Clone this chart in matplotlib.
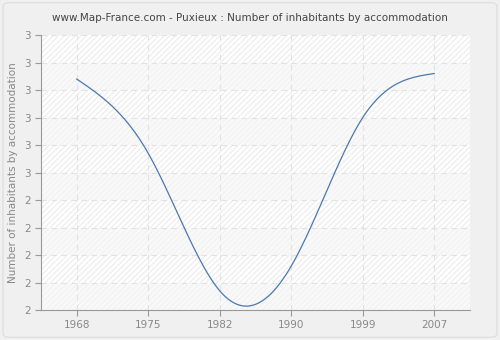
import numpy as np
import matplotlib
matplotlib.use("Agg")
import matplotlib.pyplot as plt
from matplotlib.patches import Rectangle, FancyBboxPatch
from matplotlib.ticker import FuncFormatter

years = ["1968", "1975", "1982", "1990", "1999", "2007"]
values = [2.84, 2.57, 2.07, 2.16, 2.70, 2.86]


def natural_spline(x, y, n=300):
    # natural cubic spline, second derivatives zero at both ends
    x = np.asarray(x, float)
    y = np.asarray(y, float)
    k = len(x)
    h = np.diff(x)
    A = np.zeros((k, k))
    b = np.zeros(k)
    A[0, 0] = A[-1, -1] = 1
    for i in range(1, k - 1):
        A[i, i - 1] = h[i - 1]
        A[i, i] = 2 * (h[i - 1] + h[i])
        A[i, i + 1] = h[i]
        b[i] = 6 * ((y[i + 1] - y[i]) / h[i] - (y[i] - y[i - 1]) / h[i - 1])
    m = np.linalg.solve(A, b)
    xs = np.linspace(x[0], x[-1], n)
    idx = np.clip(np.searchsorted(x, xs) - 1, 0, k - 2)
    t0 = x[idx + 1] - xs
    t1 = xs - x[idx]
    hi = h[idx]
    ys = (m[idx] * t0 ** 3 / (6 * hi) + m[idx + 1] * t1 ** 3 / (6 * hi)
          + (y[idx] / hi - m[idx] * hi / 6) * t0
          + (y[idx + 1] / hi - m[idx + 1] * hi / 6) * t1)
    return xs, ys


fig = plt.figure(figsize=(5, 3.4), dpi=100)
fig.patch.set_facecolor("#f0f0f0")
fig.patches.append(FancyBboxPatch((0.006, 0.008), 0.988, 0.984,
                                  boxstyle="round,pad=0,rounding_size=0.012",
                                  transform=fig.transFigure, facecolor="none",
                                  edgecolor="#dcdcdc", linewidth=0.8))

ax = fig.add_axes([0.082, 0.088, 0.858, 0.809])
ax.set_facecolor("#fbfbfb")

# alternating bands: every other row hatched
yticks = np.linspace(2.0, 3.0, 11)
for i in range(10):
    if i % 2 == 1:
        ax.add_patch(Rectangle((-0.5, yticks[i]), 6, 0.1, facecolor="#ffffff",
                               edgecolor="#efefef", hatch="//////", linewidth=0, zorder=0))
    else:
        ax.add_patch(Rectangle((-0.5, yticks[i]), 6, 0.1, facecolor="#f9f9f9",
                               edgecolor="#f3f3f3", hatch="//////", linewidth=0, zorder=0))

pos = np.arange(len(years))
xs, ys = natural_spline(pos, values)
ax.plot(xs, ys, color="#4a78b0", linewidth=0.9, zorder=3)

ax.set_xlim(-0.5, 5.5)
ax.set_ylim(2.0, 3.0)
ax.set_xticks(pos)
ax.set_xticklabels(years)
ax.set_yticks(yticks)
ax.yaxis.set_major_formatter(FuncFormatter(lambda v, p: "%d" % int(v + 0.5 + 1e-9)))

ax.grid(True, color="#e2e2e2", linestyle=(0, (5, 4)), linewidth=0.8, zorder=1)
for s in ["top", "right"]:
    ax.spines[s].set_visible(False)
for s in ["left", "bottom"]:
    ax.spines[s].set_color("#999999")
ax.tick_params(axis="both", colors="#999999", labelcolor="#888888",
               labelsize=7.5, length=4, width=0.8)

ax.set_ylabel("Number of inhabitants by accommodation", fontsize=7.5, color="#888888")
fig.text(0.5, 0.948, "www.Map-France.com - Puxieux : Number of inhabitants by accommodation",
         ha="center", va="center", fontsize=7.5, color="#444444")

fig.savefig("out.png", dpi=100, facecolor=fig.get_facecolor())
